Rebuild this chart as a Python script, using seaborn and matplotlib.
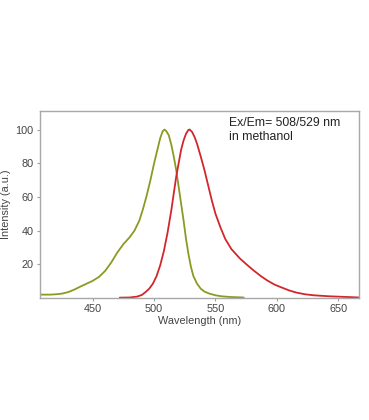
import matplotlib
matplotlib.use("Agg")
import matplotlib.pyplot as plt
import pandas as pd
import seaborn as sns

# excitation (absorption) spectrum, olive curve
ex_nm = [407, 415, 420, 425, 430, 435, 440, 445, 450, 455, 460, 465, 470, 475,
         480, 484, 488, 491, 494, 497, 500, 503, 505, 507, 508.5, 510, 512, 514,
         516, 518, 520, 522, 524, 526, 528, 530, 532, 535, 538, 541, 545, 550,
         555, 562, 573]
ex_val = [2.0, 2.0, 2.2, 2.6, 3.5, 5.0, 6.8, 8.5, 10.2, 12.5, 16.0, 21.0, 27.0, 32.0,
          36.0, 40.0, 46.0, 53.0, 61.0, 70.0, 80.0, 89.0, 95.0, 99.0, 100.0, 99.0, 96.5, 91.0,
          84.0, 76.0, 66.0, 56.0, 46.0, 35.0, 26.0, 18.5, 13.0, 8.5, 5.5, 3.8, 2.6, 1.6,
          1.0, 0.6, 0.3]

# emission spectrum, red curve
em_nm = [472, 480, 486, 490, 493, 496, 499, 502, 505, 508, 511, 514, 516, 518,
         520, 522, 524, 526, 528, 529, 531, 533, 535, 538, 541, 544, 547, 550,
         554, 558, 563, 570, 576, 581, 587, 592, 598, 603, 610, 616, 623, 630,
         643, 657, 667]
em_val = [0.2, 0.3, 0.8, 1.8, 3.5, 5.5, 8.5, 13.0, 19.5, 28.0, 39.0, 52.0, 62.0, 72.0,
          80.0, 88.0, 93.5, 97.5, 99.8, 100.0, 98.5, 95.5, 91.5, 84.0, 76.0, 67.0, 58.0, 50.0,
          42.0, 35.0, 29.0, 23.4, 19.5, 16.4, 13.0, 10.5, 8.0, 6.5, 4.5, 3.2, 2.2, 1.6,
          1.0, 0.6, 0.3]

x_ticks = [450, 500, 550, 600, 650]
y_ticks = [20, 40, 60, 80, 100]

sns.set_style("white")
plt.rcParams["font.family"] = ["Liberation Sans", "DejaVu Sans"]

ex = pd.DataFrame({"nm": ex_nm, "val": ex_val})
em = pd.DataFrame({"nm": em_nm, "val": em_val})

fig = plt.figure(figsize=(3.69, 4.2), dpi=100)
ax = fig.add_axes([0.1084, 0.2905, 0.8646, 0.4452])

sns.lineplot(data=ex, x="nm", y="val", ax=ax, color="#8c9a22", lw=1.3)
sns.lineplot(data=em, x="nm", y="val", ax=ax, color="#d3262c", lw=1.3)

ax.set_xlim(407, 667)
ax.set_ylim(0, 111)
ax.set_xticks(x_ticks)
ax.set_yticks(y_ticks)
ax.tick_params(axis="both", labelsize=7.8, colors="#a0a0a0", labelcolor="#444444",
               length=2.5, width=0.8, direction="out", pad=2, bottom=True, left=True)
for s in ax.spines.values():
    s.set_color("#a8a8a8")
    s.set_linewidth(1.0)

ax.set_xlabel("Wavelength (nm)", fontsize=7.8, color="#444444", labelpad=1)
ax.set_ylabel("Intensity (a.u.)", fontsize=7.8, color="#444444", labelpad=3)

ax.text(0.592, 0.9, "Ex/Em= 508/529 nm\nin methanol", transform=ax.transAxes,
        fontsize=8.8, color="#222222", va="center", ha="left", linespacing=1.25)

fig.savefig("out.png", dpi=100, facecolor="white")
